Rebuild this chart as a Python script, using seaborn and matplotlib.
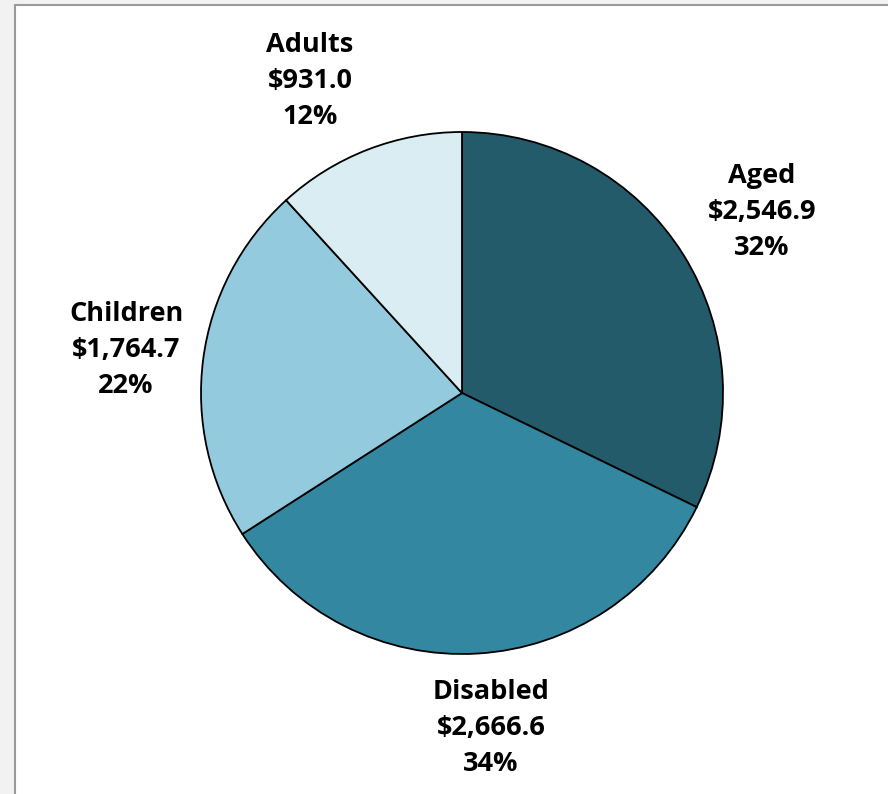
import matplotlib
matplotlib.use("Agg")
import matplotlib.pyplot as plt
import matplotlib.patches as mpatches
import seaborn as sns

groups = ["Aged", "Disabled", "Children", "Adults"]
spending = [2546.9, 2666.6, 1764.7, 931.0]
colors = ["#235b6b", "#3387a0", "#93cade", "#daedf3"]

# label anchor points in pixels (from top-left), as placed in the original chart
label_pos = {"Aged": (762, 212), "Disabled": (491, 728),
             "Children": (126, 350), "Adults": (310, 81)}

sns.set_theme(style="white")
plt.rcParams["font.family"] = ["Open Sans", "DejaVu Sans"]

W, H = 888, 794
fig = plt.figure(figsize=(W / 100, H / 100), dpi=100)
fig.patch.set_facecolor("#f2f2f2")
fig.patches.append(mpatches.Rectangle((15 / W, -0.1), 1.0, (H - 5) / H + 0.1,
                                      transform=fig.transFigure, facecolor="white",
                                      edgecolor="#9a9a9a", linewidth=1.5, zorder=-10))

ax = fig.add_axes([0, 0, 1, 1])
ax.set_facecolor("none")
ax.set_zorder(5)

total = sum(spending)
labels = [f"{g}\n${v:,.1f}\n{v / total:.0%}" for g, v in zip(groups, spending)]

wedges, texts = ax.pie(spending, colors=colors, startangle=90, counterclock=False,
                       center=(462, H - 393), radius=261, labels=labels,
                       labeldistance=1.31,
                       wedgeprops=dict(edgecolor="black", linewidth=1.3),
                       textprops=dict(fontsize=19.5, fontweight="bold", color="black",
                                      linespacing=1.5))
for g, t in zip(groups, texts):
    x, y = label_pos[g]
    t.set_position((x, H - y))
    t.set_ha("center")
    t.set_va("center")

ax.set_xlim(0, W)
ax.set_ylim(0, H)
ax.set_aspect("equal")
ax.axis("off")

fig.savefig("out.png", dpi=100, facecolor=fig.get_facecolor())
